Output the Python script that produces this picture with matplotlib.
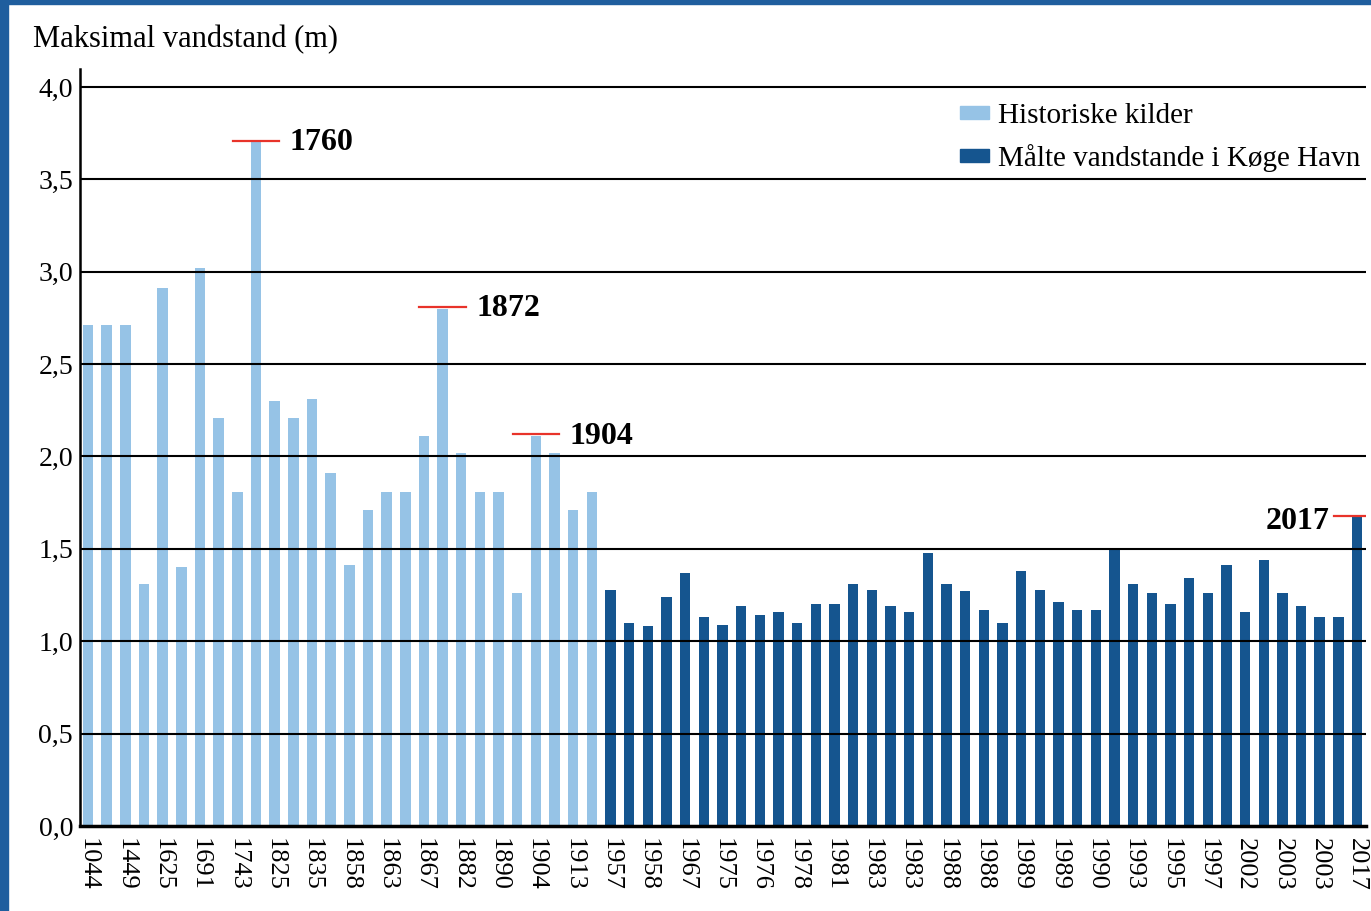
import matplotlib
matplotlib.use("Agg")
import matplotlib.pyplot as plt
from matplotlib.patches import Rectangle, Patch
import numpy as np

# historic sources (light) and measured water levels in Køge Havn (dark), in metres
historic = [2.71, 2.71, 2.71, 1.31, 2.91, 1.40, 3.02, 2.21, 1.81, 3.70,
            2.30, 2.21, 2.31, 1.91, 1.41, 1.71, 1.81, 1.81, 2.11, 2.80,
            2.02, 1.81, 1.81, 1.26, 2.11, 2.02, 1.71, 1.81]
measured = [1.28, 1.10, 1.08, 1.24, 1.37, 1.13, 1.09, 1.19, 1.14, 1.16,
            1.10, 1.20, 1.20, 1.31, 1.28, 1.19, 1.16, 1.48, 1.31, 1.27,
            1.17, 1.10, 1.38, 1.28, 1.21, 1.17, 1.17, 1.50, 1.31, 1.26,
            1.20, 1.34, 1.26, 1.41, 1.16, 1.44, 1.26, 1.19, 1.13, 1.13,
            1.67]
# every second bar carries a year label
tick_years = ["1044", "1449", "1625", "1691", "1743", "1825", "1835", "1858",
              "1863", "1867", "1882", "1890", "1904", "1913",
              "1957", "1958", "1967", "1975", "1976", "1978", "1981", "1983",
              "1983", "1988", "1988", "1989", "1989", "1990", "1993", "1995",
              "1997", "2002", "2003", "2003", "2017"]
# highlighted storm floods: label and bar index
peak_labels = ["1760", "1872", "1904", "2017"]
peak_index = [9, 19, 24, 68]

LIGHT = "#96c3e6"
DARK = "#15558f"
RED = "#e8332a"
FRAME = "#1f5e9e"

plt.rcParams["font.family"] = ["Liberation Serif", "DejaVu Serif"]

W, H = 1371, 911
fig = plt.figure(figsize=(W / 100, H / 100), dpi=100)
ax = fig.add_axes([80 / W, 1 - 826 / H, (1366 - 80) / W, (826 - 68.5) / H])

values = np.array(historic + measured)
x = np.arange(len(values))
n_hist = len(historic)
ax.bar(x[:n_hist], historic, width=0.56, color=LIGHT, zorder=1)
ax.bar(x[n_hist:], measured, width=0.56, color=DARK, zorder=1)

for yv in np.arange(0.5, 4.01, 0.5):
    ax.axhline(yv, color="black", lw=1.5, zorder=2)

ax.set_xlim(-0.43, len(values) - 1 + 0.48)
ax.set_ylim(0, 4.1)
ax.set_yticks(np.arange(0, 4.01, 0.5))
ax.set_yticklabels([f"{v:.1f}".replace(".", ",") for v in np.arange(0, 4.01, 0.5)])
ax.set_xticks(x[::2])
ax.set_xticklabels(tick_years, rotation=270, va="top", ha="center")
ax.tick_params(axis="both", length=0)
ax.tick_params(axis="y", pad=5, labelsize=20)
ax.tick_params(axis="x", pad=9, labelsize=19)

for side in ["top", "right"]:
    ax.spines[side].set_visible(False)
ax.spines["left"].set_linewidth(1.8)
ax.spines["bottom"].set_linewidth(2.5)
ax.spines["left"].set_zorder(3)
ax.spines["bottom"].set_zorder(3)

for lab, i in zip(peak_labels, peak_index):
    v = values[i]
    ax.plot([i - 1.25, i + 1.25], [v + 0.01, v + 0.01], color=RED, lw=1.6,
            zorder=4, clip_on=True)
    if i == len(values) - 1:
        ax.text(i - 1.5, v - 0.02, lab, ha="right", va="center", fontsize=23,
                fontweight="bold", zorder=5)
    else:
        ax.text(i + 1.8, v, lab, ha="left", va="center", fontsize=23,
                fontweight="bold", zorder=5)

handles = [Patch(color=LIGHT), Patch(color=DARK)]
leg = ax.legend(handles, ["Historiske kilder", "Målte vandstande i Køge Havn"],
                loc="upper right", bbox_to_anchor=(0.996, 0.955), frameon=False,
                fontsize=21, handlelength=1.0, handleheight=0.3,
                handletextpad=0.32, labelspacing=0.52, borderaxespad=0.0,
                borderpad=0.0)

fig.text(33 / W, 1 - 40 / H, "Maksimal vandstand (m)", fontsize=22,
         ha="left", va="center")

# blue page frame on the left and top
fig.patches.append(Rectangle((0, 0), 8 / W, 1, transform=fig.transFigure,
                             color=FRAME, zorder=10))
fig.patches.append(Rectangle((0, 1 - 4 / H), 1, 4 / H, transform=fig.transFigure,
                             color=FRAME, zorder=10))

fig.savefig("out.png", dpi=100)
